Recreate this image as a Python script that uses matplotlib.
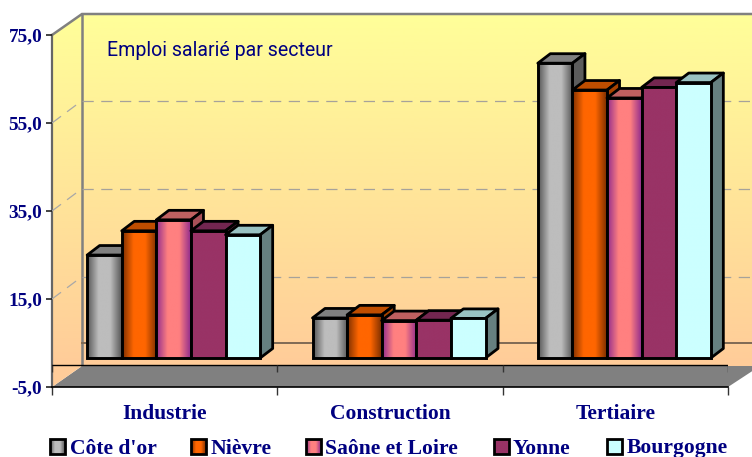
import numpy as np
import matplotlib
matplotlib.use("Agg")
import matplotlib.pyplot as plt
from matplotlib.colors import LinearSegmentedColormap
from matplotlib.patches import Polygon, Rectangle
from matplotlib.transforms import Affine2D

categories = ["Industrie", "Construction", "Tertiaire"]
series_names = ["Côte d'or", "Nièvre", "Saône et Loire", "Yonne", "Bourgogne"]
values = {
    "Côte d'or": [23.4, 9.1, 67.0],
    "Nièvre": [28.9, 9.8, 60.9],
    "Saône et Loire": [31.4, 8.5, 59.1],
    "Yonne": [28.9, 8.6, 61.5],
    "Bourgogne": [28.0, 9.0, 62.6],
}
y_ticks = [-5, 15, 35, 55, 75]
y_labels = ["-5,0", "15,0", "35,0", "55,0", "75,0"]
title = "Emploi salarié par secteur"

NAVY = "#000080"
W, H = 752, 457
fig = plt.figure(figsize=(W / 100, H / 100), dpi=100, facecolor="white")

# Background layer in pixel coordinates
bg = fig.add_axes([0, 0, 1, 1], zorder=0)
bg.set_xlim(0, W)
bg.set_ylim(H, 0)
bg.axis("off")

wall_cmap = LinearSegmentedColormap.from_list("wall", ["#FFFF99", "#FFCC99"])
grad = np.linspace(0, 1, 256).reshape(-1, 1)
for poly in ([(82, 14), (752, 14), (752, 366), (82, 366)],
             [(52, 35), (82, 14), (82, 366), (52, 387)]):
    patch = Polygon(poly, closed=True, fc="none", ec="none")
    bg.add_patch(patch)
    im = bg.imshow(grad, cmap=wall_cmap, extent=(40, 760, 366, 14), aspect="auto",
                   interpolation="bilinear", zorder=1)
    im.set_clip_path(patch)
bg.set_xlim(0, W)
bg.set_ylim(H, 0)

# floor
bg.add_patch(Polygon([(52, 387), (82, 366), (760, 366), (728, 387)], closed=True,
                     fc="#808080", ec="none", zorder=2))
bg.add_patch(Polygon([(52, 387), (52, 366), (82, 366)], closed=True,
                     fc="#FFCC99", ec="none", zorder=2))
# wall outlines
bg.plot([52, 82, 752], [35, 14, 14], color="#808080", lw=1.8, zorder=3, solid_joinstyle="miter")
bg.plot([82, 82], [14, 366], color="#808080", lw=1.8, zorder=3)
bg.plot([52, 52], [35, 387], color="#666666", lw=1.6, zorder=3)

# Main data axes: front plane of the chart
ax = fig.add_axes([52 / W, (H - 387) / H, 676 / W, 352 / H], zorder=1)
ax.patch.set_visible(False)
ax.set_xlim(0, 3)
ax.set_ylim(-5, 75)
for s in ax.spines.values():
    s.set_visible(False)
back_t = ax.transData + Affine2D().translate(29.5, 22)

# gridlines on side and back wall
for v in [15, 35, 55]:
    ax.plot([0, 3.1], [v, v], transform=back_t, color="#A6A29A", lw=0.9,
            dashes=(9, 6), zorder=1, clip_on=False)
    a = ax.transData.transform((0, v))
    b = back_t.transform((0, v))
    ax.plot([a[0], b[0]], [a[1], b[1]], transform=None, color="#A8A8A8", lw=0.9,
            dashes=(9, 6), zorder=1, clip_on=False)
ax.plot([0, 3.1], [0, 0], transform=back_t, color="#7F6A55", lw=1.4, zorder=1, clip_on=False)

# zero axis line and ticks
ax.axhline(0, color="black", lw=1.0, zorder=2)
ax.vlines([0, 1, 2, 3], -1.5, 0, color="#333333", lw=1.0, zorder=2)
ax.plot([0, 3], [-5, -5], color="black", lw=1.2, zorder=2, clip_on=False)

ax.set_yticks(y_ticks)
ax.set_yticklabels(y_labels, fontfamily="Liberation Serif", fontweight="bold",
                   fontsize=13.9, color=NAVY)
ax.tick_params(axis="y", length=4, width=1.2, color="#222222", pad=3)
ax.set_xticks([0, 1, 2, 3])
ax.set_xticklabels([])
ax.tick_params(axis="x", length=5.5, width=1.0, color="#333333")
ax.set_xticks([0.5, 1.5, 2.5], minor=True)
ax.set_xticklabels(categories, minor=True, fontfamily="Liberation Serif",
                   fontweight="bold", fontsize=15.5, color=NAVY)
ax.tick_params(axis="x", which="minor", length=0, pad=12)

styles = {
    "Côte d'or": (["#555555", "#BDBDBD", "#BDBDBD", "#555555"], "#808080", "#5C5C5C"),
    "Nièvre": (["#7A2E00", "#FF6600", "#FF6600", "#7A2E00"], "#BF4D00", "#A84300"),
    "Saône et Loire": (["#8E2A8E", "#FF8080", "#FF8080", "#8E2A8E"], "#BF6060", "#A85058"),
    "Yonne": (["#993366", "#993366"], "#732650", "#662244"),
    "Bourgogne": (["#CCFFFF", "#CCFFFF"], "#99C2C2", "#668080"),
}

front = ax.transData + Affine2D().translate(9.0, 7)
bar_w = 34.6 / (676 / 3)
n = len(series_names)
DX, DY = 12.5, 9.5
z = 3
xg = np.linspace(0, 1, 256).reshape(1, -1)
for c in range(len(categories)):
    for i, name in enumerate(series_names):
        v = values[name][c]
        xc = c + 0.5 + (i - (n - 1) / 2) * bar_w
        cols, top, side = styles[name]
        cmap = LinearSegmentedColormap.from_list(name, cols)
        rect = ax.bar([xc], [v], width=bar_w, transform=front, facecolor="none",
                      edgecolor="none", zorder=z + 1, clip_on=False)[0]
        x0, x1 = xc - bar_w / 2, xc + bar_w / 2
        p = front.transform([(x0, 0), (x1, 0), (x1, v), (x0, v)])
        d = np.array([DX, DY])
        ax.add_patch(Polygon([p[3], p[2], p[2] + d, p[3] + d], closed=True, fc=top,
                             ec="black", lw=2.0, transform=None, zorder=z, clip_on=False,
                             joinstyle="round"))
        ax.add_patch(Polygon([p[1], p[1] + d, p[2] + d, p[2]], closed=True, fc=side,
                             ec="black", lw=2.0, transform=None, zorder=z, clip_on=False,
                             joinstyle="round"))
        im = ax.imshow(xg, cmap=cmap, extent=(x0, x1, 0, v), aspect="auto",
                       transform=front, zorder=z + 1, interpolation="bilinear")
        im.set_clip_path(rect)
        rect2 = Rectangle((x0, 0), bar_w, v, fc="none", ec="black", lw=2.1,
                          transform=front, zorder=z + 2, clip_on=False)
        ax.add_patch(rect2)
        z += 3
ax.set_xlim(0, 3)
ax.set_ylim(-5, 75)

# Title
bg.text(107, 50.5, title, fontfamily="Roboto",
        fontsize=14.05, color=NAVY, va="center", ha="left", zorder=4)

# Legend
swatch_x = [50, 191, 306, 494, 607]
text_x = [70, 211, 325, 513, 627]
for name, sx, tx in zip(series_names, swatch_x, text_x):
    cols = styles[name][0]
    cmap = LinearSegmentedColormap.from_list(name + "_l", cols)
    r = Rectangle((sx, 439), 15, 15, fc="none", ec="none", zorder=4)
    bg.add_patch(r)
    im = bg.imshow(xg, cmap=cmap, extent=(sx, sx + 15, 454, 439), aspect="auto", zorder=4,
                   interpolation="bilinear")
    im.set_clip_path(r)
    bg.add_patch(Rectangle((sx, 439), 15, 15, fc="none", ec="black", lw=2.0, zorder=5))
    bg.text(tx, 448.5, name, fontfamily="Liberation Serif", fontweight="bold", fontsize=15.6,
            color=NAVY, va="center", ha="left", zorder=5)
bg.set_xlim(0, W)
bg.set_ylim(H, 0)

fig.savefig("out.png", dpi=100, facecolor="white")
